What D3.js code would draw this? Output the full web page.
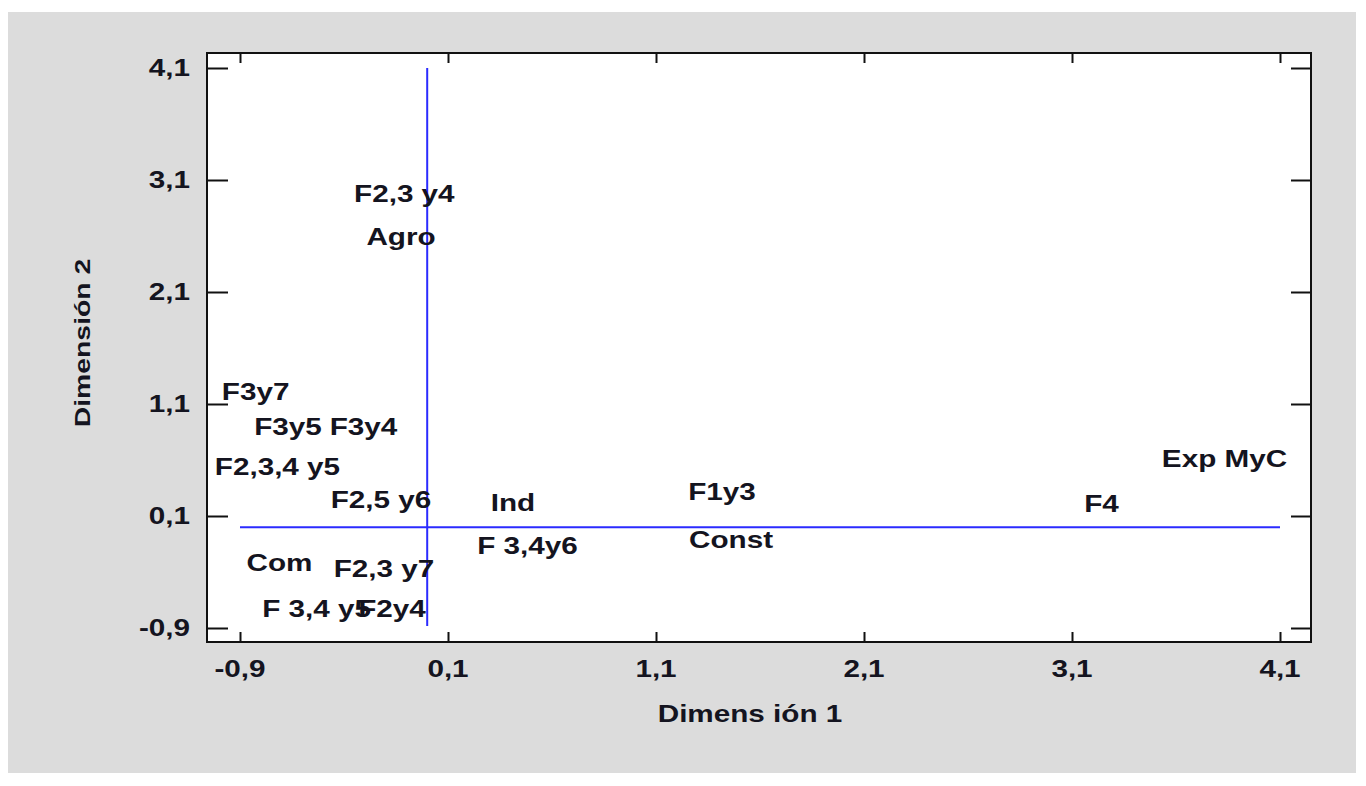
<!DOCTYPE html>
<html>
<head>
<meta charset="utf-8">
<script src="https://cdn.jsdelivr.net/npm/d3@7"></script>
<style>
  html, body { margin: 0; padding: 0; background: #ffffff; }
  svg { display: block; }
  text { font-family: "Liberation Sans", Arial, sans-serif; font-weight: bold; fill: #141420; }
</style>
</head>
<body>
<svg id="chart" width="1366" height="786"></svg>
<script>
// ---- data ----
const labels = ["F2,3 y4", "Agro", "F3y7", "F3y5", "F3y4", "F2,3,4 y5", "F2,5 y6", "Com",
                "F2,3 y7", "F 3,4 y5", "F2y4", "Ind", "F 3,4y6", "F1y3", "Const", "F4", "Exp MyC"];
const dim1 = [-0.11, -0.126, -0.825, -0.669, -0.306, -0.72, -0.222, -0.71,
              -0.208, -0.532, -0.169, 0.4125, 0.482, 1.417, 1.461, 3.242, 3.833];
const dim2 = [2.975, 2.591, 1.207, 0.899, 0.899, 0.538, 0.247, -0.315,
              -0.373, -0.73, -0.73, 0.221, -0.163, 0.314, -0.114, 0.207, 0.609];
const tickValues = [-0.9, 0.1, 1.1, 2.1, 3.1, 4.1];
const tickLabels = ["-0,9", "0,1", "1,1", "2,1", "3,1", "4,1"];
const axisRange = [-0.9, 4.1];
const refValue = 0;
const xTitle = "Dimens ión 1";
const yTitle = "Dimensión 2";

// ---- layout ----
const svg = d3.select("#chart");
const SX = 1.29;       // horizontal glyph stretch
const FS = 23;         // font size
const frame = { left: 207, top: 53, right: 1311, bottom: 642 };

svg.append("rect").attr("x", 8).attr("y", 12).attr("width", 1348).attr("height", 761)
  .attr("fill", "#dcdcdc");
svg.append("rect").attr("x", frame.left).attr("y", frame.top)
  .attr("width", frame.right - frame.left).attr("height", frame.bottom - frame.top)
  .attr("fill", "#ffffff");

const x = d3.scaleLinear().domain(axisRange).range([240, 1280]);
const y = d3.scaleLinear().domain(axisRange).range([628, 68]);

function txt(px, py, s, anchor, rot, size) {
  const g = svg.append("g").attr("transform", `translate(${px},${py})` + (rot ? ` rotate(${rot})` : ""));
  return g.append("text").attr("transform", `scale(${SX},1)`)
    .attr("text-anchor", anchor).attr("dy", "0.36em")
    .style("font-size", (size || FS) + "px").text(s);
}

// axes (ticks only, inward)
function styleAxis(g) {
  g.select(".domain").remove();
  g.selectAll(".tick line").attr("stroke", "#111").attr("stroke-width", 2);
  g.selectAll(".tick text").remove();
}
svg.append("g").attr("transform", `translate(${frame.left},0)`)
  .call(d3.axisLeft(y).tickValues(tickValues).tickSize(-21).tickFormat("")).call(styleAxis);
svg.append("g").attr("transform", `translate(${frame.right},0)`)
  .call(d3.axisRight(y).tickValues(tickValues).tickSize(-20).tickFormat("")).call(styleAxis);
svg.append("g").attr("transform", `translate(0,${frame.bottom})`)
  .call(d3.axisBottom(x).tickValues(tickValues).tickSize(-10).tickFormat("")).call(styleAxis);
svg.append("g").attr("transform", `translate(0,${frame.top})`)
  .call(d3.axisTop(x).tickValues(tickValues).tickSize(-10).tickFormat("")).call(styleAxis);

// frame
svg.append("rect").attr("x", frame.left).attr("y", frame.top)
  .attr("width", frame.right - frame.left).attr("height", frame.bottom - frame.top)
  .attr("fill", "none").attr("stroke", "#111").attr("stroke-width", 2);

// tick labels
tickValues.forEach((v, i) => {
  txt(190, y(v), tickLabels[i], "end");
  txt(x(v), 669, tickLabels[i], "middle");
});

// reference lines
svg.append("line").attr("x1", x(refValue)).attr("x2", x(refValue))
  .attr("y1", y(axisRange[1])).attr("y2", y(axisRange[0]) - 2)
  .attr("stroke", "#2b2bff").attr("stroke-width", 2);
svg.append("line").attr("x1", x(axisRange[0])).attr("x2", x(axisRange[1]))
  .attr("y1", y(refValue)).attr("y2", y(refValue))
  .attr("stroke", "#2b2bff").attr("stroke-width", 2);

// point labels
labels.forEach((s, i) => txt(x(dim1[i]), y(dim2[i]), s, "middle"));

// titles
txt(750, 714, xTitle, "middle");
txt(82, 343, yTitle, "middle", -90, 22);
</script>
</body>
</html>
